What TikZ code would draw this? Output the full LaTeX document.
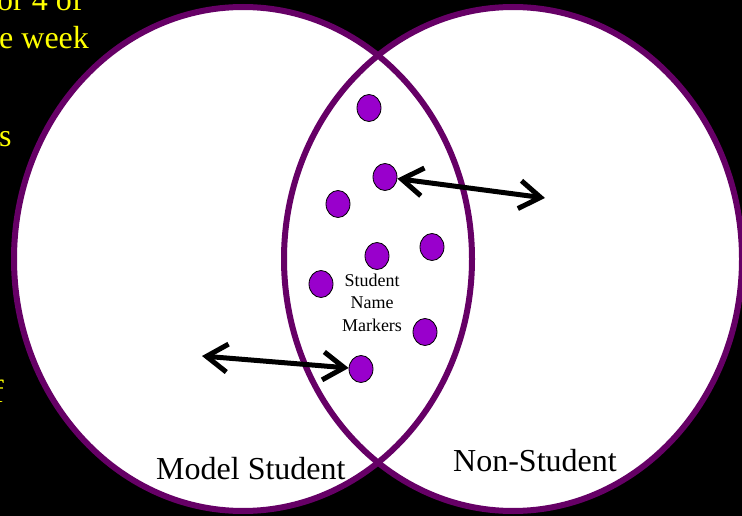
\documentclass[tikz,border=0pt]{standalone}
\usepackage{fontspec}
\setmainfont{Liberation Serif}
\usetikzlibrary{arrows.meta,shapes.geometric}
\definecolor{ringpurple}{HTML}{660066}
\definecolor{dotpurple}{HTML}{9900CC}
\definecolor{slideyellow}{HTML}{FFFF00}
\tikzset{
  ring/.style={draw=ringpurple, line width=6pt},
  marker/.style={ellipse, draw=black, line width=0.8pt, fill=dotpurple, minimum width=24pt, minimum height=27pt, inner sep=0pt},
  bigtext/.style={inner sep=0pt, font=\fontsize{32}{38}\selectfont},
  slidetext/.style={bigtext, text=slideyellow, anchor=base west},
  dblarrow/.style={line width=5pt, {Straight Barb[length=21pt,width=28pt]}-{Straight Barb[length=21pt,width=28pt]}}
}
\begin{document}
\begin{tikzpicture}[x=1pt,y=-1pt]
\useasboundingbox (0,0) rectangle (742,516);
\fill[black] (0,0) rectangle (742,516);
\begin{scope}
\clip (0,0) rectangle (742,516);
% partially visible slide text
\node[slidetext] (t1) at (-3,11) {or 4 of};
\node[slidetext] (t2) at (-1,49) {e week};
\node[slidetext] (t3) at (-1,147) {s};
\node[slidetext] (t4) at (-7,402) {f};
% circles
\fill[white] (243,259) ellipse [x radius=229pt, y radius=252pt];
\fill[white] (513,259) ellipse [x radius=229pt, y radius=252pt];
\draw[ring] (243,259) ellipse [x radius=229pt, y radius=252pt];
\draw[ring] (513,259) ellipse [x radius=229pt, y radius=252pt];
\end{scope}
% markers
\node[marker] (d1) at (369,108) {};
\node[marker] (d2) at (385,177) {};
\node[marker] (d3) at (338,204) {};
\node[marker] (d4) at (377,256) {};
\node[marker] (d5) at (432,247) {};
\node[marker] (d6) at (321,284) {};
\node[marker] (d7) at (425,332) {};
\node[marker] (d8) at (361,369) {};
\node[inner sep=0pt, align=center, anchor=base, font=\fontsize{18}{22.5}\selectfont] (lbl) at (372,331) {Student\\Name\\Markers};
% arrows
\coordinate (c1) at (545,198);
\coordinate (c2) at (202,356);
\draw[dblarrow] (d2) -- (c1);
\draw[dblarrow] (c2) -- (d8);
% labels
\node[bigtext, anchor=base west] (ms) at (156,479) {Model Student};
\node[bigtext, anchor=base west] (ns) at (453,471) {Non-Student};
\end{tikzpicture}
\end{document}
